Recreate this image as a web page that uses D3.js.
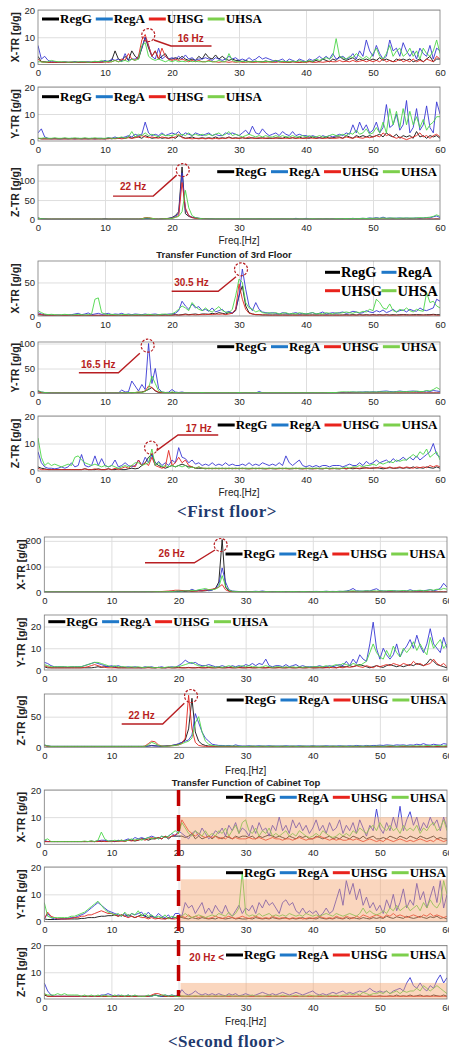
<!DOCTYPE html>
<html lang="en">
<head>
<meta charset="utf-8">
<title>Transfer functions - first and second floor</title>
<script src="https://d3js.org/d3.v7.min.js"></script>
<style>
  body { margin: 0; background: #fff; }
  svg { display: block; }
  text { font-family: "Liberation Sans", Arial, sans-serif; }
  .serif { font-family: "Liberation Serif", "Times New Roman", serif; font-weight: bold; }
</style>
</head>
<body>
<svg id="chart" width="449" height="1053"></svg>
<script>
// frequency axis [Hz], shared by every series
var FREQ = [0,0.5,1,1.5,2,2.5,3,3.5,4,4.5,5,5.5,6,6.5,7,7.5,8,8.5,9,9.5,
  10,10.5,11,11.5,12,12.5,13,13.5,14,14.5,15,15.5,16,16.5,17,17.5,18,18.5,19,19.5,
  20,20.5,21,21.5,22,22.5,23,23.5,24,24.5,25,25.5,26,26.5,27,27.5,28,28.5,29,29.5,
  30,30.5,31,31.5,32,32.5,33,33.5,34,34.5,35,35.5,36,36.5,37,37.5,38,38.5,39,39.5,
  40,40.5,41,41.5,42,42.5,43,43.5,44,44.5,45,45.5,46,46.5,47,47.5,48,48.5,49,49.5,
  50,50.5,51,51.5,52,52.5,53,53.5,54,54.5,55,55.5,56,56.5,57,57.5,58,58.5,59,59.5,60];

var SERIES = ["RegG", "RegA", "UHSG", "UHSA"];
var X_TICKS = [0, 10, 20, 30, 40, 50, 60];

// ---------- first floor: X-TR ----------
var xtr1RegG = [3,1,1,0.8,0.8,0.8,0.8,0.8,0.8,0.8,
  0.8,0.9,0.8,0.8,0.9,0.8,0.8,0.9,1,0.9,
  1,1.2,1.5,5,2,1.5,3,1.5,5,3,
  2,6,10,6,3,5,2,3,4,2,
  2,2.5,2,3,2,1.5,2,1.5,3,2,
  4,2.5,2,3.5,2,3,2,1.5,2,1.5,
  1.5,1,1.5,1,1,1.2,1,1,1.3,1,
  1,1.5,1,1,1,0.8,1,1,0.8,1,
  1,1.2,1,1.5,1,2,1.5,1,2,1.5,
  3,2,1.5,2,2.5,1.5,2,1.5,2,1.5,
  2,1.5,2.5,1.5,2,1.5,1,2,1.5,2,
  1.5,2,1,1.5,2,1,2,3,1,2,
  2];
var xtr1RegA = [7,2,3,1.5,1,1,0.8,0.8,1,0.8,
  0.8,1,0.8,1,0.8,1,0.8,1,0.8,1,
  1.5,1,2,1.5,2,1,4,1.5,2,2,
  3,6,10,7,3,2,6,2,3,2,
  2.5,2,3,2,3.5,2,2.5,1.5,2,2,
  2.5,2,1.5,2.5,2,1.5,2,3,2,2.5,
  1.5,2,1.5,2.5,1.5,2,3,2,2.5,2,
  1.5,1,1.5,2,1,2,1.5,1,2,1.5,
  1,2,1.5,2,3,2,3,2,4,2,
  2.5,3,2,2.5,4,2,5,3,9,5,
  3,7,4,2,3,9,5,6,3,8,
  5,3,5,2,6,4,3,7,2,6,
  5];
var xtr1UHSG = [2,1,0.8,0.8,0.8,0.8,0.8,0.8,0.8,0.8,
  0.8,0.8,0.8,0.8,0.8,0.8,0.8,0.8,0.8,0.8,
  1,0.8,1,1.5,1,2,1.5,4,2,1.5,
  3,9,11,7,3,5,2,6,3,2,
  1.5,2,1.5,2,1.5,1,1.5,1,1.5,1,
  1,1.5,1,1,0.8,1,1,0.8,1,0.8,
  1,0.8,0.8,1,0.8,0.8,1,0.8,0.8,1,
  0.8,0.8,1,0.8,0.8,0.8,1,0.8,0.8,0.8,
  0.8,1,0.8,0.8,1,0.8,1,1.2,1,1,
  1.5,1,1.2,1,1.5,1,1.2,1.5,1,1.5,
  1,1.5,1,2,1,1.5,1,1.2,2,1,
  1.5,1,2,1,1.5,1,2,1.5,1,3,
  2];
var xtr1UHSA = [1,1,0.8,1,1.5,1.2,1,1,1,0.8,
  1,0.8,1,1,1,0.8,1,1.2,1,1.5,
  1,1.2,1,1.5,1,1.2,1.5,1,2,1.5,
  2,7,8,3,2,1.5,2,1.5,1,1.5,
  1,1.5,1,1.2,1,1.5,1,1.2,1,1,
  1,1.2,1,1,1.5,1,1,4,1.5,1,
  1,1.2,1,1,1,1.2,1,1,1.2,1,
  1,1.5,1,1.2,1,1,1.2,1,1.5,1,
  1,1.5,1,2,1.5,2,2.5,2,3,9.5,
  3,2.5,2,3,2.5,4,3,2,3,2,
  4,6,3,2,4,7,3,5,6,3,
  4,6,3,5,2,6,4,3,5,9,
  4];

// ---------- first floor: Y-TR ----------
var ytr1RegG = [1,0.8,0.8,0.8,0.8,0.8,0.8,0.8,0.8,0.8,
  0.8,0.8,0.8,0.8,0.8,0.8,0.8,0.8,0.8,0.8,
  0.8,1,0.8,1,1,1.2,1,1.5,1,1.5,
  1.5,1,2,1.5,1,1.2,1.5,1,1.2,1,
  1.5,1,2,1.5,1,1.2,1.5,1,1,1.2,
  1,1.2,1,1.5,1,1.2,1,1.5,1,1.2,
  1,1.2,1,1,1.2,1,1,1.2,1,1,
  1,1.2,1,1,1.5,1,1.2,1,1.5,1,
  1.2,1,1.5,1,1.2,1,1.5,1,1.2,1.5,
  1.5,1,2,1.5,1,2,1.5,2,1.5,2,
  1.5,2,2.5,1.5,3,2,1.5,2.5,1,2,
  1.5,2,1,3.5,1.5,2,1,2,1.5,2,
  1];
var ytr1RegA = [3,4.5,1.5,1,0.8,1,0.8,0.8,1,0.8,
  1,0.8,1,0.8,1,0.8,1,0.8,1,1,
  0.8,1.2,1,1.5,1,1.2,1.5,2,1.5,2.5,
  2,2.5,7,3,2,2.5,2,3,2,2.5,
  3,2.5,3.5,2,3,2.5,2,3,2.5,2,
  2.5,3,2,2.5,2,2,3,2.5,3,2.5,
  2,3,4,2.5,5.5,3,2.5,4.5,3,2,
  2.5,3,2,3.5,2.5,2,3.5,2,2.5,2,
  2,1.5,2,1.5,1.2,2,1.5,2,1.5,2,
  2.5,2,3,2.5,6,3,7,4,6,3,
  4,7,3,5,13.5,5,6,10,4,6,
  15,3,5,12,4,6,13,5,3,14.5,
  10];
var ytr1UHSG = [1,0.8,0.8,0.8,0.8,0.8,0.8,0.8,0.8,0.8,
  0.8,0.8,0.8,0.8,0.8,0.8,0.8,0.8,0.8,0.8,
  0.8,0.8,1,0.8,1,0.8,1,1.2,1,1.2,
  1.5,2,1.5,1.2,1.5,1.2,1,1.5,1.2,1,
  1.2,1.5,2.5,1.2,1,1,0.8,1,0.8,1,
  0.8,1,0.8,1,0.8,1,1,1.2,1,1,
  1,1.2,1,1.5,1,1,1.2,1,1,1.2,
  1,1,1.2,1,1,1,1.2,1,1,1,
  1,1.2,1,1,1.2,1,1,1.2,1,1,
  1.2,1,1.5,1.2,1,1.5,1.2,1,1.5,1.2,
  1.5,2,1.5,3,2,2.5,1.5,1,1.5,1,
  0.5,1,1.5,2,3,1.5,2,1,2,2.5,
  1.5];
var ytr1UHSA = [1,1,1.2,1,1,1.2,1,1,1.2,1,
  1,1.2,1,1,1.2,1,1,1.2,1,1,
  1,1.2,1,1,1.2,1.5,1,1.5,3.5,1.5,
  2.5,2,3,2,2.5,2,1.5,2.5,2,2,
  2,2.5,2,2.5,2,3,2,2.5,2,2.5,
  2,2.5,2,2.5,3,2,2.5,3.5,2,2.5,
  2,1.5,2,2.5,2,1.5,2,1.5,2,1.5,
  1.5,2,1.5,2,1.5,1.5,2,1.5,1.5,2,
  1.5,2,1.5,1.5,2,1.5,1.5,2,2.5,2,
  2,2.5,2,3,2.5,4,2.5,3,4.5,2.5,
  3,5,3,7,3,12,6,11,5,12,
  6,11,6,9,5,8,4,6,7,9,
  9];

// ---------- first floor: Z-TR ----------
var ztr1RegG = [4,2,1.5,1,1,1,1,1,1,1,
  1,1,1,1,1,1,1,1,1,1,
  1.5,1,1,1,1,1,1,1,1,1,
  1,1,2,2,1.5,1,1,1.5,2,3,
  5,10,20,135,15,8,5,4,3,2,
  2,1.5,1.5,1,1,1,1,1,1,1,
  1,1,1.2,1,1,1,1.2,1,1,1,
  1,1,1,1.2,1,1,1,1,1,1,
  1,1,1,1,1.2,1,1,1,1,1,
  1,1,1.2,1,1,1,1,1.2,1,1,
  1,1,1,1,1.2,1,1,1,1,1.2,
  1,1,1.2,1,1,1,1.2,1,1,1.5,
  1];
var ztr1RegA = [3,2,1.5,1,1,1,1,1,1,1,
  1,1,1,1,1,1,1,1,1,1,
  2,1,1,1,1,1,1,1,1,1,
  1,1,1.5,2,1.5,1,1,1.5,2,3,
  4,8,15,120,25,10,6,4,3,2.5,
  2,2,1.5,1.5,1.5,1.5,1.5,1.5,1.5,1.5,
  1.5,1.5,1.5,1.5,1.5,1.5,1.5,1.5,1.5,1.5,
  1.5,1.5,1.5,1.5,1.5,1.5,1.5,3,1.5,1.5,
  3,1.5,1.5,1.5,1.5,1.5,2,1.5,2,1.5,
  2,2,2.5,2,3,2,2.5,3,2.5,4,
  3,5,3,6,3,4,3,3.5,4,3,
  4,3,3.5,4,3,4,5,4,7,9,
  5];
var ztr1UHSG = [2,1,1,1,1,1,1,1,1,1,
  1,1,1,1,1,1,1,1,1,1,
  1,1,1,1,1,1,1,1,1,1,
  1,2,5,5,3,1.5,1,1.5,2,2.5,
  3,6,10,95,30,10,5,3,2,1.5,
  1.5,1,1,1,1,1,1,1,1,1,
  1,1,1,1,1,1,1,1,1,1,
  1,1,1,1,1,1,1,1,1,1,
  1,1,1,1,1,1,1,1,1,1,
  1,1,1,1,1,1,1,1,1,1,
  1,1,1,1,1,1,1,1,1,1,
  1,1,1,1,1,1,1,1,1,1,
  1];
var ztr1UHSA = [3,2,1.5,1,1,1,1,1,1,1,
  1,1,1,1,1,1,1,1,1,1,
  1,1,1,1,1,1,1,1,1,1,
  1,1.5,4,4,3,1.5,1,1.5,2,2,
  3,5,8,20,75,30,10,5,3,2,
  1.5,1.5,1.5,1.5,1.5,1.5,1.5,1.5,1.5,1.5,
  1.5,1.5,1.5,1.5,1.5,1.5,1.5,1.5,1.5,1.5,
  1.5,1.5,1.5,1.5,1.5,1.5,1.5,1.5,1.5,1.5,
  1.5,1.5,2,1.5,1.5,1.5,1.5,1.5,1.5,2,
  2,2,2.5,2,2.5,2,2.5,3,2.5,3,
  3,3.5,3,4,3,3.5,4,3,3.5,4,
  3.5,4,3.5,4,5,4,5,6,8,12,
  8];

// ---------- 3rd floor (first floor test): X-TR ----------
var xtr3RegG = [2,1.5,1,1,1,1,1,1,1,1,
  1,1,1,1,1,1,1,1,1,1,
  1,1,1,1,1,1,1,1,1,1,
  1,1,1,1,1,1,1.5,1,1.5,1,
  1.5,2,1.5,2,3,2,2.5,3,2,3,
  3,2.5,4,3,5,4,3,5,4,8,
  30,45,15,5,3,2,2,1.5,1.5,1.5,
  1.5,1.5,1.5,1.5,1.5,1.5,1.5,1.5,1.5,1.5,
  1.5,1.5,1.5,1.5,1.5,1.5,1.5,1.5,1.5,1.5,
  1.5,1.5,2,1.5,2,1.5,2,1.5,2,1.5,
  2,1.5,2,1.5,2,1.5,2,1.5,2,2,
  2,1.5,2,2,2,1.5,2,2,2.5,2,
  2];
var xtr3RegA = [5,3,2,1.5,1.5,1,1.5,1,1.5,1.5,
  2,3,4,2,3,4.5,2,3,4,2.5,
  3,4,2,3,2.5,4,2,3,2,3,
  2.5,2,3,2,2.5,3,2,2.5,2,3,
  3,4,8,22,15,10,18,12,14,8,
  10,7,12,6,8,10,5,7,4,10,
  30,70,40,15,8,20,10,6,5,4,
  5,4,3,5,4,3,4,5,3,4,
  3,4,5,3,4,6,3,4,5,4,
  5,6,4,5,7,6,4,5,8,6,
  5,8,6,9,5,7,10,6,8,9,
  6,10,8,7,12,9,8,10,12,25,
  22];
var xtr3UHSG = [3,2,1.5,1,1,1,1,1,1,1,
  1,1,1,1,1,1,1,1,1,1,
  1,1,1,1,1,1,1,1,1,1,
  1,1,1,1,1,1,1,1.2,1,1.2,
  1,1.5,1,1.5,2,1.5,2,1.5,2,2,
  2,2.5,2,3,2.5,3,2,3,4,10,
  48,25,10,4,3,2,2,1.5,1.5,1,
  1,1.2,1,1.2,1,1,1.2,1,1,1.2,
  1,1,1.2,1,1,1.2,1,1,1.2,1,
  1,1.2,1,1,1.2,1,1.5,1,1.2,1,
  1.5,1,1.2,1,1.5,1,1,1.2,1,1.5,
  1,1.5,1,1.2,1,1.5,1,1.2,1.5,1,
  1];
var xtr3UHSA = [8,5,3,2,2.5,2,1.5,2,2.5,2,
  1.5,2,2.5,2,1.5,2,3,25,27,5,
  3,2,2.5,2,1.5,2,2.5,2,1.5,2,
  2,1.5,2,2.5,2,1.5,2,2.5,3,2,
  3,6,10,15,12,8,20,14,10,8,
  12,8,6,10,14,8,6,5,10,30,
  55,50,20,12,10,6,8,5,4,5,
  4,5,3,4,5,3,4,3,5,4,
  3,4,5,3,4,3,5,4,3,5,
  4,5,6,5,4,6,5,7,6,10,
  8,25,20,12,10,18,8,6,10,8,
  12,8,6,10,8,7,35,20,22,15,
  12];

// ---------- 3rd floor: Y-TR ----------
var ytr3RegG = [4,2,1.5,1,1,1,1,1,1,1,
  1,1,1,1,1,1,1,1,1,1,
  1,1,1,1,1,1.5,1,2,1.5,2,
  2,3,5,8,12,5,2,1.5,1,1.5,
  2,1.5,1,1,1,1,1,1,1,1,
  1,1,1,1,1,1,1,1,1,1,
  1,1,1,1,1,1,1,1,1,1,
  1,1,1,1,1,1,1,1,1,1,
  1,1,1,1,1,1,1,1,1,1,
  1,1,1,1,1,1,1,1,1,1,
  1,1,1,1,1,1,1,1,1,1,
  1,1,1,1,1,1,1,1,1,1,
  1];
var ytr3RegA = [5,3,2,1.5,1,1,1,1,1,1,
  1,1,1,1,1,1,1,1,1,1,
  1,1,1,1,1,7,3,3.5,25,15,
  5,18,8,100,20,50,10,3,2,2.5,
  8,3,2,3,1.5,1.5,1,1,1,1,
  1,1,1,1,1,1,1,1,1,1,
  1.5,1,1.5,1,1,1,4,1.5,1,1,
  1,1,1,1,1,1,1,1,1,1.5,
  1,1,1.5,1,1,1.5,1,1,1.5,1.5,
  2,2,2.5,2,3,2.5,3,3,3.5,3,
  3.5,3,4,4.5,5,4,3.5,4,5,4,
  4,4.5,5,4,3.5,4,5,4,6,5,
  4];
var ytr3UHSG = [3,2,1,1,1,1,1,1,1,1,
  1,1,1,1,1,1,1,1,1,1,
  1,1,1,1,1,1,1,1,1,2,
  3,2,5,15,12,6,3,2,1.5,1,
  1,1,1,1,1,1,1,1,1,1,
  1,1,1,1,1,1,1,1,1,1,
  1,1,1,1,1,1,1,1,1,1,
  1,1,1,1,1,1,1,1,1,1,
  1,1,1,1,1,1,1,1,1,1,
  1,1,1,1,1,1,1,1,1,1,
  1,1,1,1,1,1,1,1,1,1,
  1,1,1,1,1,1,1,1,1,1,
  1];
var ytr3UHSA = [6,3,2,1.5,1,1,1,1,1,1,
  1,1,1,1,1,1,1,1,1,1,
  1,1,1,1,1,1.5,1,2,1.5,2,
  3,2,4,10,35,20,5,3,2,1.5,
  3,2,1.5,1.5,1.5,1.5,1.5,1.5,1.5,2,
  1.5,1.5,1.5,1.5,1.5,1.5,1.5,1.5,1.5,1.5,
  2,1.5,1.5,1.5,1.5,1.5,2,1.5,1.5,1.5,
  1.5,1.5,1.5,1.5,1.5,1.5,1.5,1.5,1.5,1.5,
  1.5,1.5,1.5,1.5,1.5,1.5,1.5,2,2,2,
  3,3.5,3,3.5,3,3,3,2.5,3,3,
  3,3,3.5,3,3.5,3,3,3.5,4,3.5,
  4,3.5,4,5,4,4,6,5,8,12,
  8];

// ---------- 3rd floor: Z-TR ----------
var ztr3RegG = [1.5,1,0.8,0.5,0.5,0.5,0.5,0.5,0.5,0.5,
  0.5,0.5,0.5,0.5,0.8,0.5,0.5,0.5,0.8,0.5,
  0.5,0.8,0.5,0.5,0.8,0.5,0.5,0.8,1,0.8,
  1,2,3,5,6,3,2,1.5,1,1.5,
  2,1.5,2,2.5,2,1.5,1.5,1,1,1,
  0.8,1,0.8,1,0.8,1,0.8,1,0.8,1,
  0.8,1,0.8,0.8,1,0.8,1,0.8,0.8,1,
  0.8,0.8,1,0.8,1,0.8,0.8,1,0.8,0.8,
  1,0.8,0.8,1,0.8,0.8,1,0.8,1,0.8,
  0.8,1,0.8,1,0.8,1,0.8,1,1.2,1,
  1,1.2,1,0.8,1,1.2,1,1,1.2,1,
  1.2,1,1.5,1,1.2,1,1.5,1.2,1,1.5,
  1];
var ztr3RegA = [7,3,1.5,1,1,0.8,1,1.5,1,1.5,
  3,1.5,2,6,2,1.5,2,5.5,2,4.5,
  2,1.5,2,4,1.5,2,3,2,1.5,2,
  4,2,5,3,6,2,3.5,2,3,2,
  4,3,8.5,5,4.5,3,4,2.5,3,2,
  2.5,2,3,2,2.5,2,3,2,2.5,2,
  2,2.5,2,3,2,2.5,2,3,2.5,2,
  2.5,2,3,2,5.5,3,2,3,4,2,
  1.5,2,1.5,2,1.5,2,2,1.5,2,2,
  2,1.5,2,2.5,2,2,3,2,3.5,2.5,
  3,4,3,3.5,4,3,4.5,3.5,4,5,
  4,5,4,5.5,4,5,6,7,10,6,
  5];
var ztr3UHSG = [1,0.5,0.5,0.5,0.5,0.5,0.5,0.5,0.5,0.5,
  0.5,0.5,0.5,0.5,0.8,0.5,0.5,0.8,0.5,0.5,
  0.5,0.8,0.5,1,0.5,1,1.5,1,2,1.5,
  4,2,3,2,5,2,1.5,1,1.5,7.5,
  2,3,5,3,4,2,1.5,1,1.5,1,
  1,0.8,1,0.8,1,0.8,1,0.8,1,0.8,
  1,0.8,1,0.8,0.8,1,0.8,1,0.8,0.8,
  1,0.8,0.8,1,0.8,0.8,1,0.8,1,0.8,
  0.8,1,0.8,0.8,1,0.8,1,0.8,0.8,1,
  0.8,1,0.8,1,1.2,1,1,1.2,1,1,
  1.2,1,1.5,1.2,1,1.5,1,1.2,1.5,1,
  1.5,1.2,1,1.5,1.2,1.5,1.2,2,1.5,2,
  1.5];
var ztr3UHSA = [12,5,2,3,2,2.5,2,1.5,2,2.5,
  2,5,5.5,4,3,2.5,2,2.5,2,1.5,
  2,1.5,2,1.5,1,1.5,2,1.5,2,3,
  3,2,2.5,3,8,2,3,1.5,2,1.5,
  2,1.5,2,1.5,2,1,1.5,1,1.5,1,
  1,1,1,1,1,1,1,1,1,1,
  1,1,1,1,1,1,1,1,1,1,
  1,1,1,1,1,1,1,1,1,1,
  1,1,1,1,1,1,1,1,1,1,
  1,1,1.5,1,1.5,1.5,2,1.5,2,2,
  2.5,2,3,2.5,3,3.5,3,4,3.5,4,
  4,5,6,5,7,6,8,5,6,7,
  4];

// ---------- second floor: X-TR ----------
var xtr2RegG = [2,1,1,1,1,1,1,1,1,1,
  1,1,1,1,1,1,1,1,1,1,
  1,1,1,1,1,1,1,1,1,1,
  1,1.5,1,1.5,2,1.5,2,2.5,2,3,
  3,4,3,5,4,5,6,5,6,8,
  10,15,40,205,20,5,3,2,2,1.5,
  1.5,2,1.5,2,1.5,2,1.5,2,1.5,2,
  1.5,2,1.5,2,1.5,2,1.5,2,1.5,2,
  1.5,2,1.5,2,1.5,2,1.5,2,1.5,2,
  2,1.5,2,1.5,2,1.5,2,1.5,2,1.5,
  2,1.5,2,1.5,2,1.5,2,1.5,2,1.5,
  2,1.5,2,1.5,2,1.5,2,1.5,2,1.5,
  2];
var xtr2RegA = [3,2,1.5,1.5,1.5,1.5,1.5,1.5,1.5,1.5,
  1.5,1.5,1.5,1.5,1.5,1.5,1.5,1.5,1.5,1.5,
  1.5,1.5,1.5,1.5,1.5,1.5,1.5,2,1.5,2,
  2,2.5,2,3,2.5,3,2,3,4,3,
  5,4,6,5,12,6,8,7,10,6,
  8,15,30,95,40,10,5,4,3,3,
  3,2.5,3,4,3,5,3,2.5,3,3,
  3,2.5,3,3,2.5,3,3,2.5,3,3,
  3,3.5,3,3,4,3,3.5,3,4,3,
  5,8,15,6,5,4,6,5,10,14,
  6,5,4,5,6,5,4,6,5,10,
  6,5,7,6,8,10,6,9,15,35,
  20];
var xtr2UHSG = [1,1,1,1,1,1,1,1,1,1,
  1,1,1,1,1,1,1,1,1,1,
  1,1,1,1,1,1,1,1,1,1,
  1,1,1.5,2,2,3,4,5,6,8,
  8,7,6,5,5,4,5,6,8,10,
  12,15,20,30,10,4,2,1.5,1,1,
  1,1.5,1,1,1.5,1,1,1.5,1,1,
  1.5,1,1,1.5,1,1,1.5,1,1,1.5,
  1,1,1.5,1,1,1.5,1,1,1.5,1,
  1,1.5,1,1,1.5,1,1,1.5,1,1,
  1.5,1,1,1.5,1,1,1.5,1,1,1.5,
  1,1,1.5,1,1,1.5,1,1,1.5,1,
  1];
var xtr2UHSA = [2,1.5,1.5,1.5,1.5,1.5,1.5,1.5,1.5,1.5,
  1.5,1.5,1.5,1.5,1.5,1.5,1.5,1.5,1.5,1.5,
  1.5,1.5,1.5,1.5,1.5,1.5,1.5,1.5,1.5,1.5,
  1.5,2,1.5,2,2.5,2,2.5,3,3,4,
  5,4,6,5,8,6,10,12,15,10,
  10,12,20,65,25,8,4,3,2.5,2,
  2.5,2,2.5,3,2.5,2,3,2.5,2,2.5,
  2.5,3,2,2.5,3,2.5,2,3,2.5,2,
  2.5,3,2.5,3,3.5,3,2.5,3,3.5,4,
  4,5,6,5,4,5,6,5,6,5,
  6,5,6,7,6,5,6,7,6,5,
  6,7,8,6,7,10,8,12,10,15,
  12];

// ---------- second floor: Y-TR ----------
var ytr2RegG = [1.5,1,1,1,1,1,1,1,1,1,
  1,1,1,1,1,1.2,1.5,1.2,1.5,1.5,
  1.5,1.2,1,1,1,1,1,1,1,1,
  1,1.2,1,1,1.2,1,1,1.2,1,1,
  1.2,1,1,1.2,1,1,1.2,1,1,1.2,
  1,1,1.2,1,1,1.2,1,1,1.2,1,
  1,1.2,1,1,1.2,1,1,1.2,1,1,
  1.2,1,1,1.2,1,1,1.2,1,1,1.2,
  1,1,1,1,1.2,1,1.5,1,1.5,1.5,
  1.5,2,1.5,2,2.5,2,1.5,1,1.5,2,
  1.5,1.2,2,2.5,2,1.5,2,1.5,2,2.5,
  2,3,2.5,2,3,5,4,2.5,2,1.5,
  1];
var ytr2RegA = [3.5,3,2,1.5,1.5,1.5,1.5,1.2,1.5,1.5,
  1.5,1.5,2,2.5,3,3.5,3,2.5,2,1.5,
  2,1.5,2,1.5,1.2,1.5,1.2,1.5,1.2,1,
  1.5,1.2,1.5,1,1.2,1.5,1,1.2,1.5,1.2,
  2,3,4.5,3.5,3,3.5,2.5,2,2,2.5,
  2,1.5,1.5,2,1.5,1.2,2,1.5,2,1.5,
  2.5,2,3,2,3,2.5,5,2,1.5,2,
  2,1.5,2.5,1.5,2,2.5,1.5,2,1.5,1.5,
  1.5,1.5,2,1.5,1.5,2,1.5,2,2.5,2,
  4,2,5,3,7,5,4,12,22,10,
  5,10,7,5,7,12,6,9,11,14,
  10,16,11,8,12,19,12,10,8,15,
  10];
var ytr2UHSG = [2,1.5,1,1,1,1,1,1,1,1,
  1,1,1.2,1.5,2,2.5,2,1.5,1.2,1,
  1,1,1,1,1,1,1,1,1,1,
  1,1,1,1,1,1,1,1,1,1,
  1,1,1,1,1,1,1,1,1,1,
  1,1,1,1,1,1,1,1,1,1,
  1,1,1,1,1,1,1,1,1,1,
  1,1,1,1,1,1,1,1,1,1,
  1,1,1.2,1,1,1.2,1,1,1.2,1,
  1.5,1.2,1.5,2,1.5,1.2,2,1.5,1,2,
  1.5,2,2.5,2,3,2.5,2,3,2.5,2,
  4,2.5,3,2,2.5,3,5,3,2,3,
  1.5];
var ytr2UHSA = [2.5,2,1.5,1.5,1.5,1.5,1.5,1.5,1.5,1.5,
  1.5,1.5,2,2.5,3,3.5,3.5,3,2.5,2,
  1.5,2,1.5,1.5,1.5,1.2,1.5,1.2,1.5,1.2,
  1.2,1.5,1.2,1,1.2,1,1.2,1.5,1.2,1.5,
  1.5,2,2.5,3,3.5,2.5,2,1.5,2,1.5,
  1.5,1.2,1.5,1.2,1.5,2,1.5,1.2,1.5,2,
  1.5,2,1.5,1.5,1.2,1.5,2,1.5,1.2,1.5,
  1.5,1.2,1.5,1.2,1.5,1.2,1.5,1.2,1.5,1.2,
  1.5,1.5,1.5,1.5,2,1.5,2,2.5,2,3,
  2.5,2,3,2.5,2,3,4,8,12,8,
  6,5,9,6,11,8,6,10,8,10,
  13,9,12,9,7,15,10,12,14,10,
  12];

// ---------- second floor: Z-TR ----------
var ztr2RegG = [3,2,1.5,1.5,1.5,1.5,1.5,1.5,1.5,1.5,
  1.5,1.5,1.5,1.5,1.5,1.5,1.5,1.5,1.5,1.5,
  1.5,1.5,1.5,1.5,1.5,1.5,1.5,1.5,1.5,1.5,
  1.5,2,3,2.5,2,1.5,2,2.5,3,4,
  5,8,12,30,80,25,10,5,3,2,
  2,1.5,1.5,1.5,1.5,1.5,1.5,1.5,1.5,1.5,
  1.5,1.5,1.5,1.5,1.5,1.5,1.5,1.5,1.5,1.5,
  1.5,1.5,1.5,1.5,1.5,1.5,1.5,1.5,1.5,1.5,
  1.5,1.5,1.5,1.5,1.5,1.5,1.5,1.5,1.5,1.5,
  1.5,1.5,1.5,1.5,1.5,1.5,1.5,1.5,1.5,1.5,
  1.5,1.5,1.5,1.5,1.5,1.5,1.5,1.5,1.5,1.5,
  1.5,1.5,1.5,1.5,1.5,1.5,1.5,1.5,1.5,1.5,
  1.5];
var ztr2RegA = [4,2,1.5,1.5,1.5,1.5,1.5,1.5,1.5,1.5,
  1.5,1.5,1.5,1.5,1.5,1.5,1.5,1.5,1.5,1.5,
  1.5,1.5,1.5,1.5,1.5,1.5,1.5,1.5,1.5,1.5,
  1.5,2,2.5,2,2,2,2,2.5,3,4,
  6,8,10,12,20,55,40,25,15,10,
  5,4,3,3,2.5,3,2,4,2.5,2,
  2,2.5,2,2,2.5,2,2,2.5,2,2,
  2,2,2.5,2,2,2,2.5,2,2,2,
  2.5,2,2,2,2.5,2,2,2,2.5,2,
  2,2.5,2,3,2.5,2,3,2.5,3,3,
  3.5,3,4,3.5,3,4,3.5,4,3,4,
  3.5,5,4,6,4,3.5,5,4,3.5,6,
  5];
var ztr2UHSG = [3,1.5,1,1,1,1,1,1,1,1,
  1,1,1,1,1,1,1,1,1,1,
  1,1,1,1,1,1,1,1,1,1,
  2,6,10,9,4,2,1.5,2,2.5,3,
  4,6,15,85,30,8,3,2,1.5,1,
  1,1,1,1,1,1,1,1,1,1,
  1,1,1,1,1,1,1,1,1,1,
  1,1,1,1,1,1,1,1,1,1,
  1,1,1,1,1,1,1,1,1,1,
  1,1,1,1,1,1,1,1,1,1,
  1,1,1,1,1,1,1,1,1,1,
  1,1,1,1,1,1,1,1,1,1,
  1];
var ztr2UHSA = [4,2,1.5,1.5,1.5,1.5,1.5,1.5,1.5,1.5,
  1.5,1.5,1.5,1.5,1.5,1.5,1.5,1.5,1.5,1.5,
  1.5,1.5,1.5,1.5,1.5,1.5,1.5,1.5,1.5,1.5,
  1.5,4,8,6,3,2,1.5,2,2.5,3,
  4,6,8,10,15,40,50,25,10,5,
  3,2.5,2,2,2,2,2,2,1.5,1.5,
  1.5,1.5,2,1.5,1.5,2,1.5,1.5,2,1.5,
  1.5,2,1.5,1.5,2,1.5,1.5,2,1.5,1.5,
  2,1.5,1.5,2,1.5,1.5,2,1.5,1.5,2,
  1.5,1.5,2,1.5,2,1.5,2,2,1.5,2,
  2,1.5,2,2.5,2,1.5,2,2.5,2,2,
  2.5,2,2.5,2,3,2.5,2,3,2.5,2,
  3];

// ---------- cabinet top: X-TR ----------
var xtr4RegG = [1,1,1,1,1,1,1,1,1,1,
  1,1,1,1,1.2,1,1.2,1,1.2,1,
  1.2,1,1.2,1.5,1.2,1.5,1.5,1.2,1.5,2,
  2,1.5,2,2,2.5,2,3,2,3,3,
  3,3,2.5,3,4,2,3,2,2.5,3,
  2,3,2.5,2,3,2.5,2,3,2.5,3,
  3,2.5,3,2,3,2.5,3,3.5,3,2.5,
  3,2.5,2,3,2.5,2,3,2.5,3,2,
  2,3,2.5,2,2.5,3,2,2.5,2,3,
  2.5,2,3,2.5,2,3,2,2.5,3,2,
  2,2.5,2,3,2.5,2,3,2.5,2,3,
  2.5,2,3,2.5,2,2.5,3,2,2.5,2,
  2];
var xtr4RegA = [1.5,1,1,1,1,1,1,1,1,1,
  1,1,1,1,1,1,1.2,1.5,1.5,1.2,
  1.2,1,1.5,1.2,1.5,2,1.5,2.5,2,2.5,
  2,2.5,3,2.5,2,3,2.5,3,4,3,
  5,4,3,2,4,5,3,6,4,2,
  3,5,4,6,3,7,5,8,4,6,
  5,3,7,4,8,5,6,3,7,5,
  10,5,7,4,9,6,8,5,7,4,
  6,9,5,7,4,8,5,6,9,4,
  7,5,8,4,9,6,3,7,5,13,
  6,4,8,5,10,6,14,5,9,12,
  7,10,5,8,6,10,7,9,5,10,
  6];
var xtr4UHSG = [1,1,1,1,1,1,1,1,1,1,
  1,1,1,1,1,1,1,1.2,1,1,
  1,1.2,1,1.2,1,1.5,1.2,1.5,1.5,2,
  1.5,2,2.5,2,2.5,2,3,2.5,3,3.5,
  4,9,7,5,4,3,4,3,2.5,3,
  2.5,3,2,2.5,2,3,2,2.5,2,2,
  2,2.5,2,2,2.5,2,1.5,2,2.5,2,
  2,1.5,2,2,1.5,2,2.5,2,1.5,2,
  2,2.5,3,2.5,2,1.5,2,1.5,2,1.5,
  1.5,2,1.5,2,1.5,1,1.5,2,1.5,1,
  1.5,1,2,1.5,1,1.5,2,1.5,1,1.5,
  1,1.5,2,1.5,1,1.5,1,2,1.5,1,
  1.5];
var xtr4UHSA = [1.5,2,1,1,1,1,1,1,1,1,
  1,1,1.2,1,1.2,1,1.5,4.5,2,1.2,
  1.2,1.5,1.2,1.5,1.2,1.5,2,1.5,2,1.5,
  2,2.5,2,2.5,2,3,2.5,3,4,5,
  4,8,6,4,3,5,4,3,5,3,
  4,3,5,4,6,3,5,7,4,8,
  9,5,4,6,3,5,4,6,3,4,
  3,4,5,3,4,3,5,4,3,2.5,
  3,4,3,5,4,3,2.5,3,4,3,
  4,3,5,4,6,5,4,6,7,5,
  8,6,5,7,5,6,4,7,5,6,
  5,7,4,6,5,7,8,5,6,9,
  5];

// ---------- cabinet top: Y-TR ----------
var ytr4RegG = [1,0.8,0.8,0.8,0.8,1,1,1,1,1,
  1,1.2,1.2,1.5,1.5,1.5,1.8,2,2,2.2,
  2.2,2.5,2,2.5,2,2.5,2,1.5,2,2.5,
  2,1.5,2,1.5,1.2,1.5,1,1.5,1.2,1.5,
  2,1.5,1.2,1,1.5,1.2,1,1.5,1.2,1,
  1.2,1,1.5,1.2,1,1.2,1.5,1,1.2,1,
  1,1.2,1,1.5,1.2,1,1.2,1,1.5,1.2,
  1,1.2,1.5,1,1.2,1,1.2,1.5,1,1.2,
  1.2,1,1.5,1.2,1,1.2,1,1.5,1.2,1,
  1.5,1,1.5,1.2,1,1.5,1.2,1,1.5,1.2,
  1.5,1.2,2,1.5,1.2,1.8,1.5,1.2,2,1.5,
  1.2,1.5,2,1.5,1.2,1.8,1.5,2,1.2,1.5,
  1];
var ytr4RegA = [1,3,1.5,1,1,1,1,1.2,1.5,1.5,
  2,2.5,3,4,5,6,7,6,5,4,
  3.5,3,2.5,2,3,1.5,3,2.5,3,3.5,
  2,3.5,2,1.5,3,2,1.5,2.5,1,3,
  3,2,7,5,6,3,5,7,3,5,
  3,6,4,3,6,3,2,4,6,3,
  5,4,6,3,7,5,8,6,7,5,
  3,7,8,6,7,4,3,5,3,4,
  3,4,2,3,5,3,4,8,12,6,
  15,10,14,8,12,6,9,5,7,4,
  6,3,8,5,10,4,7,12,5,8,
  6,14,8,11,5,9,13,7,15,5,
  10];
var ytr4UHSG = [1,3.5,2,1.5,1,1,1,1,1.2,1.5,
  1.5,2,2,2.5,2.5,3,3.5,4,3.5,3,
  3,2.5,2,2.5,2,1.5,2,1.5,2,1.5,
  1.5,1,1.5,1,1.2,1,1,1.2,1,1,
  1.5,2,1.5,2.5,1.5,2,1.5,2,1.5,1.2,
  1.5,2,1.5,1.2,1.5,2,1.5,1.2,1.5,2,
  1.5,1.2,1.5,2,1.5,1.2,1.5,1.2,2,1.5,
  1.2,1.5,1.2,1,1.5,1.2,1.5,1,1.2,1.5,
  1.2,1.5,2,1.5,1.2,1.5,1.2,2,1.5,1.2,
  2,1.5,1.2,2,1.5,2.5,2,1.5,2,2.5,
  2,1.5,2.5,2,3,2,2.5,2,1.5,2,
  2.5,2,1.5,2.5,2,3,2,2.5,2,1.5,
  2];
var ytr4UHSA = [7,2,1.5,1.5,1.5,1.5,1.5,1.5,2,2,
  2.5,3,3.5,4.5,5.5,6.5,7.5,6,4.5,3.5,
  3,2.5,3,2,3.5,2,3,2.5,4,2,
  3,2,2.5,1.5,2,1.5,2.5,1,2,1.5,
  1.5,2,3,2,1.5,2,2.5,2,1.5,2,
  2.5,2,3,2.5,2,3.5,2,3,5,18,
  3,2,2.5,2,3,2,2.5,3,2,2.5,
  2,2.5,2,3,2.5,2,2.5,2,3,2.5,
  2,2.5,2,2.5,3,2.5,2,3,2.5,2,
  2.5,3,2.5,2,3,5,3,4,3,2.5,
  3,4,3,5,4,6,4,5,6,4,
  5,6,4,7,5,8,6,5,7,15,
  10];

// ---------- cabinet top: Z-TR ----------
var ztr4RegG = [1.5,1,1,1,1,1,1,1,1,1,
  1,1,1,1,1,1,1,1,1,1,
  1,1,1,1,1,1,1,1,1,1,
  1,1,1.2,1.5,1.2,1,1,1,1,1,
  1,1,1,1,1,1,1,1,1,1,
  1,1,1,1,1,1,1,1,1,1,
  1,1,1,1,1,1,1,1,1,1,
  1,1,1,1,1,1,1,1,1,1,
  1,1,1,1,1,1,1,1,1,1,
  1,1,1,1,1.2,1,1,1.2,1,1,
  1.2,1,1,1.2,1,1.5,1,1.2,1,1.5,
  1,1.2,1.5,1,1.2,1,1.5,1.2,1,1.5,
  1];
var ztr4RegA = [6,3,1.5,1,1,1,1,1,1,1,
  1,1,1,1,1,1,1,1.5,1.5,2,
  1.5,1,1.5,1.2,1,1.5,1,1.2,1,1,
  1,1.2,1,1.5,1.2,1,1.5,1.2,1.5,1.2,
  1.5,3.5,2,1.5,2,3,2,1.5,2,1.5,
  2,1.5,2,1.5,1.2,2,1.5,2,1.2,1.5,
  2,1.5,1.2,1.5,2,2.5,2,1.5,2,1.5,
  2,2.5,2,1.5,2,2.5,2,1.5,2,2.5,
  3,2,1.5,2,1.5,2,2.5,2,2.5,3,
  2,2.5,2,2.5,3,2.5,3,4,3,2.5,
  3,2.5,3,2,3,3.5,4,3,6,8,
  5,4,6,4,3,5,4,7,9,6,
  8];
var ztr4UHSG = [2,1,1,1,1,1,1,1,1,1,
  1,1,1,1,1,1,1,1,1,1,
  1,1,1,1,1,1,1,1,1,1,
  1,1,1.5,2,2,1.5,1,1,1,1,
  1,1,1,1,1,1,1,1,1,1,
  1,1,1,1,1,1,1,1,1,1,
  1,1,1,1,1,1,1,1,1,1,
  1,1,1,1,1,1,1,1,1,1,
  1,1,1,1,1,1,1,1,1,1,
  1,1,1,1,1,1,1,1,1,1,
  1,1,1,1,1,1,1,1,1,1,
  1,1,1,1,1,1,1,1,1,1,
  1];
var ztr4UHSA = [2,1.5,1.5,1.5,2,1.5,2,1.5,1.5,1.5,
  1.5,1,1.5,1,1.5,1,1.5,1,1.5,1,
  1,1.5,1,1.5,1,1.5,1,1.5,1,1,
  1,1.5,1,1.5,1,1.5,1.5,1,1.5,1,
  1,1.2,1,1.2,1,1.2,1,1.2,1,1.2,
  1,1.2,1,1.2,1,1.5,1,1.2,1,1.2,
  1,1.2,1.5,1,1.2,1,1.2,1.5,1,1.2,
  1,1.5,1.2,1,1.2,1.5,1,1.2,1,1.5,
  1.2,1,1.5,1.2,1,1.5,1.2,1.5,1,1.5,
  1.5,2,1.5,2,1.5,2.5,2,1.5,2,2,
  2.5,2,3,2,2.5,3,2,3,2.5,3,
  3,4,3,5,4,3,4,5,4,3,
  2];

// cabinet top: shaded band above the cut-off frequency
var CUT_FREQ = 20;
var SHADE_FROM = 20.3;
var SHADE_TOPS = [10, 15.5, 6];

var lineColors = ["#111111", "#3838d4", "#e2261f", "#4cd648"];
var legendColors = ["#000000", "#1f78c8", "#e8231c", "#7ccf4c"];

var FIRST = { x0: 38, x1: 440, lx: 15 };
var SECOND = { x0: 44.3, x1: 447, lx: 21 };

var panels = [
  { f: FIRST, label: "X-TR [g/g]", top: 10, bottom: 64.5, ymax: 20, yticks: [0, 10, 20],
    data: [xtr1RegG, xtr1RegA, xtr1UHSG, xtr1UHSA],
    legend: { align: "left", x: 42, y: 19 },
    ann: { c: [16.46, 10.8], path: [[17.3, 9.0], [19.85, 6.8], [25.9, 6.8]], text: "16 Hz", t: [22.8, 9.7] } },
  { f: FIRST, label: "Y-TR [g/g]", top: 87, bottom: 141, ymax: 20, yticks: [0, 10, 20],
    data: [ytr1RegG, ytr1RegA, ytr1UHSG, ytr1UHSA],
    legend: { align: "left", x: 42, y: 96.7 } },
  { f: FIRST, label: "Z-TR [g/g]", top: 165, bottom: 219.5, ymax: 140, yticks: [0, 50, 100],
    data: [ztr1RegG, ztr1RegA, ztr1UHSG, ztr1UHSA], xlabel: 240,
    legend: { align: "right", x: 437, y: 171.7 },
    ann: { c: [21.6, 127], path: [[20.7, 114], [17.2, 60], [11.2, 60]], text: "22 Hz", t: [14.2, 83.5] } },
  { f: FIRST, label: "X-TR [g/g]", top: 261, bottom: 316, ymax: 82, yticks: [0, 50],
    data: [xtr3RegG, xtr3RegA, xtr3UHSG, xtr3UHSA], title: { text: "Transfer Function of 3rd Floor", x: 224, y: 254 },
    legend: { align: "grid", cols: [325, 381.5], rows: [272.3, 290.7], font: 14.5, len: 15 },
    ann: { c: [30.3, 69.6], path: [[29.55, 58.6], [26.9, 36.8], [19.95, 36.8]], text: "30.5 Hz", t: [22.9, 50.2] } },
  { f: FIRST, label: "Y-TR [g/g]", top: 342, bottom: 393.5, ymax: 103, yticks: [0, 50, 100],
    data: [ytr3RegG, ytr3RegA, ytr3UHSG, ytr3UHSA],
    legend: { align: "right", x: 437, y: 346.7 },
    ann: { c: [16.37, 95.6], path: [[15.2, 80.4], [12.0, 41.6], [6.1, 41.6]], text: "16.5 Hz", t: [9.0, 59] } },
  { f: FIRST, label: "Z-TR [g/g]", top: 416, bottom: 471, ymax: 20, yticks: [0, 10, 20],
    data: [ztr3RegG, ztr3RegA, ztr3UHSG, ztr3UHSA], xlabel: 492,
    legend: { align: "right", x: 437.5, y: 425 },
    ann: { c: [16.87, 8.47], path: [[17.7, 7.4], [20.9, 13.1], [26.9, 13.1]], text: "17 Hz", t: [24.0, 15.5] } },

  { f: SECOND, label: "X-TR [g/g]", top: 537, bottom: 592.3, ymax: 215, yticks: [0, 100, 200],
    data: [xtr2RegG, xtr2RegA, xtr2UHSG, xtr2UHSA],
    legend: { align: "left", x: 225.5, y: 554 },
    ann: { c: [26.28, 183.9], path: [[25.43, 164.5], [22.35, 115], [15.0, 115]], text: "26 Hz", t: [18.98, 149] } },
  { f: SECOND, label: "Y-TR [g/g]", top: 615, bottom: 670, ymax: 25.3, yticks: [0, 10, 20],
    data: [ytr2RegG, ytr2RegA, ytr2UHSG, ytr2UHSA],
    legend: { align: "left", x: 48.3, y: 621.7 } },
  { f: SECOND, label: "Z-TR [g/g]", top: 694, bottom: 747.3, ymax: 87, yticks: [0, 50],
    data: [ztr2RegG, ztr2RegA, ztr2UHSG, ztr2UHSA], xlabel: 770,
    legend: { align: "left", x: 226.7, y: 700 },
    ann: { c: [21.86, 83.7], path: [[20.86, 71.8], [17.64, 38], [11.53, 38]], text: "22 Hz", t: [14.5, 52.7] } },
  { f: SECOND, label: "X-TR [g/g]", top: 790, bottom: 844.3, ymax: 20, yticks: [0, 10, 20],
    data: [xtr4RegG, xtr4RegA, xtr4UHSG, xtr4UHSA], shade: SHADE_TOPS[0],
    title: { text: "Transfer Function of Cabinet Top", x: 246, y: 782.7 },
    legend: { align: "left", x: 226, y: 797.3 } },
  { f: SECOND, label: "Y-TR [g/g]", top: 867, bottom: 921.7, ymax: 20, yticks: [0, 10, 20],
    data: [ytr4RegG, ytr4RegA, ytr4UHSG, ytr4UHSA], shade: SHADE_TOPS[1],
    legend: { align: "left", x: 226, y: 872.7 } },
  { f: SECOND, label: "Z-TR [g/g]", top: 945.5, bottom: 999, ymax: 20, yticks: [0, 10, 20],
    data: [ztr4RegG, ztr4RegA, ztr4UHSG, ztr4UHSA], shade: SHADE_TOPS[2], xlabel: 1021.7,
    legend: { align: "left", x: 226, y: 955 },
    note: { text: "20 Hz <", t: [24.2, 15.5] } }
];

var svg = d3.select("#chart");
var ANN_RED = "#b81e22";

function drawLegend(p) {
  var cfg = p.legend;
  var fs = cfg.font || 13, len = cfg.len || 17;
  var lg = svg.append("g").attr("class", "legend");
  var items = SERIES.map(function(name, i) {
    var it = lg.append("g");
    it.append("line").attr("x1", 0).attr("x2", len).attr("y1", 0).attr("y2", 0)
      .attr("stroke", legendColors[i]).attr("stroke-width", 3);
    var t = it.append("text").attr("class", "serif").attr("x", len + 1).attr("y", fs * 0.34)
      .attr("font-size", fs).attr("fill", "#000").text(name);
    return { g: it, w: len + 1 + t.node().getComputedTextLength() };
  });
  if (cfg.align === "grid") {
    items.forEach(function(it, i) {
      it.g.attr("transform", "translate(" + cfg.cols[i % 2] + "," + cfg.rows[Math.floor(i / 2)] + ")");
    });
    return;
  }
  var total = d3.sum(items, function(d) { return d.w; }) + 4 * (items.length - 1);
  var x = cfg.align === "right" ? cfg.x - total : cfg.x;
  items.forEach(function(it) {
    it.g.attr("transform", "translate(" + x + "," + cfg.y + ")");
    x += it.w + 4;
  });
}

panels.forEach(function(p, pi) {
  var x = d3.scaleLinear().domain([0, 60]).range([p.f.x0, p.f.x1]);
  var y = d3.scaleLinear().domain([0, p.ymax]).range([p.bottom, p.top]);
  var h = p.bottom - p.top;
  var g = svg.append("g").attr("class", "panel");

  g.append("rect").attr("x", p.f.x0).attr("y", p.top).attr("width", p.f.x1 - p.f.x0).attr("height", h)
    .attr("fill", "#fff");

  // grid lines
  g.append("g").attr("transform", "translate(0," + p.bottom + ")")
    .call(d3.axisBottom(x).tickValues(X_TICKS.slice(1, -1)).tickSize(-h).tickFormat(""))
    .call(function(a) { a.select(".domain").remove(); a.selectAll("line").attr("stroke", "#dedede"); });
  g.append("g").attr("transform", "translate(" + p.f.x0 + ",0)")
    .call(d3.axisLeft(y).tickValues(p.yticks.filter(function(t) { return t > 0; })).tickSize(-(p.f.x1 - p.f.x0)).tickFormat(""))
    .call(function(a) { a.select(".domain").remove(); a.selectAll("line").attr("stroke", "#dedede"); });

  var clipId = "clip" + pi;
  svg.append("clipPath").attr("id", clipId).append("rect")
    .attr("x", p.f.x0).attr("y", p.top).attr("width", p.f.x1 - p.f.x0).attr("height", h);

  var line = d3.line().x(function(d, i) { return x(FREQ[i]); }).y(function(d) { return y(d); });
  var lines = g.append("g").attr("clip-path", "url(#" + clipId + ")");
  p.data.forEach(function(s, si) {
    lines.append("path").datum(s).attr("d", line).attr("fill", "none")
      .attr("stroke", lineColors[si]).attr("stroke-width", 0.9).attr("stroke-linejoin", "round");
  });

  if (p.shade !== undefined) {
    g.append("rect").attr("x", x(SHADE_FROM)).attr("y", y(p.shade))
      .attr("width", x(60) - x(SHADE_FROM)).attr("height", y(0) - y(p.shade))
      .attr("fill", "#f3a46f").attr("opacity", 0.45);
  }

  // frame
  g.append("rect").attr("x", p.f.x0).attr("y", p.top).attr("width", p.f.x1 - p.f.x0).attr("height", h)
    .attr("fill", "none").attr("stroke", "#7a7a7a").attr("stroke-width", 0.8);

  // tick labels
  g.append("g").attr("transform", "translate(0," + p.bottom + ")")
    .call(d3.axisBottom(x).tickValues(X_TICKS).tickSize(0).tickPadding(5))
    .call(function(a) {
      a.select(".domain").remove();
      a.selectAll("text").attr("font-size", 9.5).attr("fill", "#262626")
        .attr("font-family", "Liberation Sans, Arial, sans-serif");
    });
  g.append("g").attr("transform", "translate(" + p.f.x0 + ",0)")
    .call(d3.axisLeft(y).tickValues(p.yticks).tickSize(0).tickPadding(3))
    .call(function(a) {
      a.select(".domain").remove();
      a.selectAll("text").attr("font-size", 9.5).attr("fill", "#262626")
        .attr("font-family", "Liberation Sans, Arial, sans-serif");
    });

  g.append("text").attr("transform", "translate(" + p.f.lx + "," + (p.top + h / 2) + ") rotate(-90)")
    .attr("text-anchor", "middle").attr("dominant-baseline", "central")
    .attr("font-size", 10.5).attr("font-weight", "bold").attr("fill", "#222").text(p.label);

  if (p.xlabel) {
    g.append("text").attr("x", (p.f.x0 + p.f.x1) / 2).attr("y", p.xlabel)
      .attr("text-anchor", "middle").attr("dominant-baseline", "central")
      .attr("font-size", 10).attr("fill", "#222").text("Freq.[Hz]");
  }
  if (p.title) {
    g.append("text").attr("x", p.title.x).attr("y", p.title.y)
      .attr("text-anchor", "middle").attr("dominant-baseline", "central")
      .attr("font-size", 9.5).attr("font-weight", "bold").attr("fill", "#222").text(p.title.text);
  }

  if (p.ann) {
    var a = p.ann;
    g.append("circle").attr("cx", x(a.c[0])).attr("cy", y(a.c[1])).attr("r", 6.5)
      .attr("fill", "none").attr("stroke", ANN_RED).attr("stroke-width", 1.2).attr("stroke-dasharray", "2.5,1.5");
    g.append("path").attr("d", d3.line().x(function(d) { return x(d[0]); }).y(function(d) { return y(d[1]); })(a.path))
      .attr("fill", "none").attr("stroke", ANN_RED).attr("stroke-width", 1.4);
    g.append("text").attr("x", x(a.t[0])).attr("y", y(a.t[1]))
      .attr("text-anchor", "middle").attr("dominant-baseline", "central")
      .attr("font-size", 10).attr("font-weight", "bold").attr("fill", ANN_RED).text(a.text);
  }
  if (p.note) {
    g.append("text").attr("x", x(p.note.t[0])).attr("y", y(p.note.t[1]))
      .attr("text-anchor", "middle").attr("dominant-baseline", "central")
      .attr("font-size", 10).attr("font-weight", "bold").attr("fill", ANN_RED).text(p.note.text);
  }
  p.xs = x; p.ys = y;
});

// cut-off marker through the three cabinet-top panels
var cab = panels.slice(9);
svg.append("line")
  .attr("x1", cab[0].xs(CUT_FREQ)).attr("x2", cab[0].xs(CUT_FREQ))
  .attr("y1", cab[0].top).attr("y2", cab[2].ys(0) - 3)
  .attr("stroke", "#c00000").attr("stroke-width", 3.5).attr("stroke-dasharray", "16,9");

panels.forEach(drawLegend);

svg.append("text").attr("class", "serif").attr("x", 227).attr("y", 511.5)
  .attr("text-anchor", "middle").attr("dominant-baseline", "central")
  .attr("font-size", 17).attr("letter-spacing", 0.5).attr("fill", "#1f3a6e").text("<First floor>");
svg.append("text").attr("class", "serif").attr("x", 226.7).attr("y", 1041.7)
  .attr("text-anchor", "middle").attr("dominant-baseline", "central")
  .attr("font-size", 17).attr("letter-spacing", 0.5).attr("fill", "#1f3a6e").text("<Second floor>");
</script>
</body>
</html>
